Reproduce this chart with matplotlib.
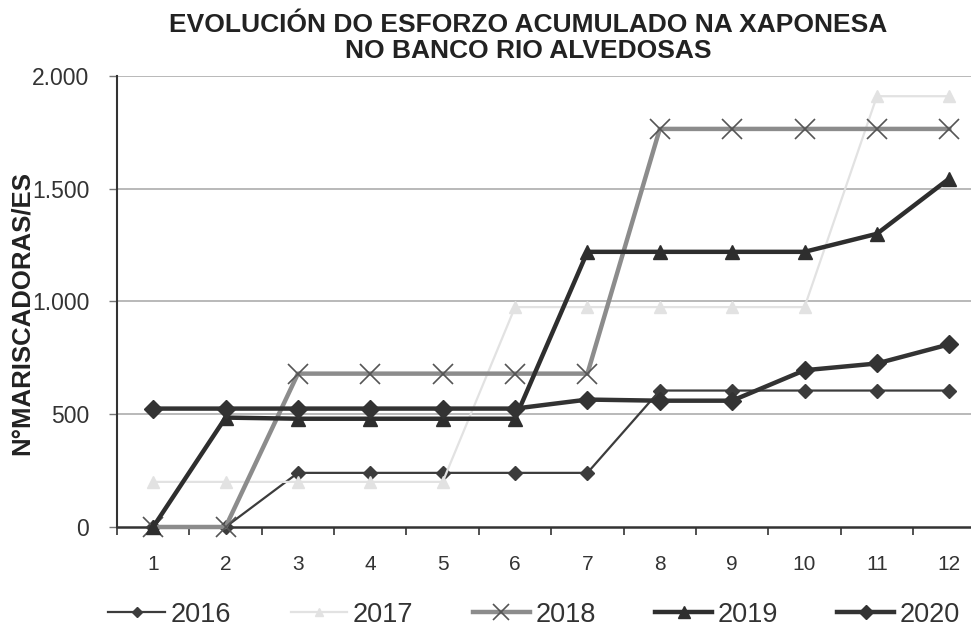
import numpy as np
import matplotlib
matplotlib.use('Agg')
import matplotlib.pyplot as plt
from matplotlib.ticker import FuncFormatter, FixedLocator

plt.rcParams['font.family'] = ['Liberation Sans', 'DejaVu Sans']

meses = [1, 2, 3, 4, 5, 6, 7, 8, 9, 10, 11, 12]
anos = ['2016', '2017', '2018', '2019', '2020']
esforzo_2016 = [0, 0, 240, 240, 240, 240, 240, 605, 605, 605, 605, 605]
esforzo_2017 = [200, 200, 200, 200, 200, 975, 975, 975, 975, 975, 1910, 1910]
esforzo_2018 = [0, 0, 680, 680, 680, 680, 680, 1765, 1765, 1765, 1765, 1765]
esforzo_2019 = [0, 485, 480, 480, 480, 480, 1220, 1220, 1220, 1220, 1300, 1545]
esforzo_2020 = [525, 525, 525, 525, 525, 525, 565, 560, 560, 695, 725, 810]
yticks = [0, 500, 1000, 1500, 2000]

estilos = {
    '2016': dict(color='#3c3c3c', lw=1.6, marker='D', ms=7, mfc='#3c3c3c', mec='#3c3c3c'),
    '2017': dict(color='#e2e2e2', lw=1.6, marker='^', ms=8, mfc='#e2e2e2', mec='#e2e2e2'),
    '2018': dict(color='#8c8c8c', lw=3.2, marker='x', ms=14, mew=1.2, mfc='none', mec='#555555'),
    '2019': dict(color='#2e2e2e', lw=3.2, marker='^', ms=10, mfc='#2e2e2e', mec='#2e2e2e'),
    '2020': dict(color='#333333', lw=3.2, marker='D', ms=9, mfc='#333333', mec='#333333'),
}
series = [esforzo_2016, esforzo_2017, esforzo_2018, esforzo_2019, esforzo_2020]

fig = plt.figure(figsize=(9.71, 6.30), dpi=100)
ax = fig.add_axes([0.1205, 0.1635, 0.8795, 0.716])

for ano, valores in zip(anos, series):
    ax.plot(meses, valores, label=ano, clip_on=False, zorder=3, **estilos[ano])

ax.set_xlim(0.5, 12.3)
ax.set_ylim(0, 2000)

# lineas de grella
for v in yticks[1:]:
    ax.axhline(v, color='#a5a5a5', lw=1.1, zorder=1)

ax.set_yticks(yticks)
ax.yaxis.set_major_formatter(FuncFormatter(lambda v, p: '{:,.0f}'.format(v).replace(',', '.')))
ax.tick_params(axis='y', length=6, width=1, color='#777777', pad=14, labelsize=16.5, labelcolor='#333333')

ax.set_xticks(meses)
ax.xaxis.set_minor_locator(FixedLocator(np.arange(0.5, 12.5, 1)))
ax.tick_params(axis='x', which='major', length=0, pad=20, labelsize=15, labelcolor='#333333')
ax.tick_params(axis='x', which='minor', length=6, width=1.2, color='#333333')

for s in ['top', 'right']:
    ax.spines[s].set_visible(False)
ax.spines['left'].set_linewidth(1.5)
ax.spines['left'].set_color('#333333')
ax.spines['bottom'].set_linewidth(1.8)
ax.spines['bottom'].set_color('#333333')

ax.set_ylabel('N°MARISCADORAS/ES', fontsize=18.5, fontweight='bold', labelpad=0, color='#222222')
ax.yaxis.set_label_coords(-0.098, 0.475)

fig.text(0.544, 0.98, 'EVOLUCIÓN DO ESFORZO ACUMULADO NA XAPONESA\nNO BANCO RIO ALVEDOSAS',
         ha='center', va='top', fontsize=19, fontweight='bold', color='#222222', linespacing=1.15)

fig.legend(loc='center', bbox_to_anchor=(0.55, 0.024), ncol=5, frameon=False,
           fontsize=19.5, handlelength=2.1, handletextpad=0.2, columnspacing=2.2,
           markerscale=0.8, borderaxespad=0, labelcolor='#333333')

fig.savefig('out.png', dpi=100)
